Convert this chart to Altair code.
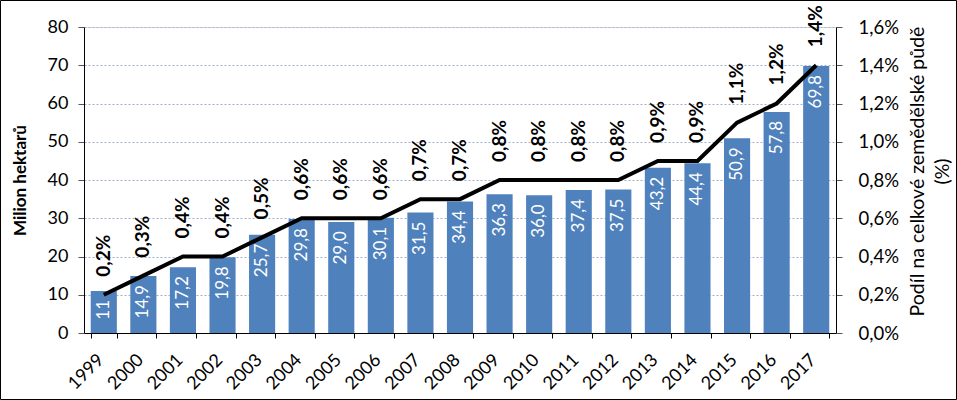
import altair as alt
import pandas as pd

years = [str(y) for y in range(1999, 2018)]
area = [11.0, 14.9, 17.2, 19.8, 25.7, 29.8, 29.0, 30.1, 31.5, 34.4,
        36.3, 36.0, 37.4, 37.5, 43.2, 44.4, 50.9, 57.8, 69.8]
area_labels = ["11", "14,9", "17,2", "19,8", "25,7", "29,8", "29,0", "30,1", "31,5", "34,4",
               "36,3", "36,0", "37,4", "37,5", "43,2", "44,4", "50,9", "57,8", "69,8"]
share = [0.2, 0.3, 0.4, 0.4, 0.5, 0.6, 0.6, 0.6, 0.7, 0.7,
         0.8, 0.8, 0.8, 0.8, 0.9, 0.9, 1.1, 1.2, 1.4]
share_labels = ["0,2%", "0,3%", "0,4%", "0,4%", "0,5%", "0,6%", "0,6%", "0,6%", "0,7%", "0,7%",
                "0,8%", "0,8%", "0,8%", "0,8%", "0,9%", "0,9%", "1,1%", "1,2%", "1,4%"]
left_ticks = [0, 10, 20, 30, 40, 50, 60, 70, 80]
right_ticks = [0.0, 0.2, 0.4, 0.6, 0.8, 1.0, 1.2, 1.4, 1.6]

df = pd.DataFrame({"year": years, "area": area, "area_label": area_labels,
                   "share": share, "share_label": share_labels})

W, H = 752, 306
FONT = "Lato"

x_enc = alt.X(
    "year:N", sort=years,
    scale=alt.Scale(paddingInner=0.34, paddingOuter=0.17),
    axis=alt.Axis(title=None, labelAngle=-45, labelFontSize=18, labelFont=FONT,
                  labelColor="black", labelAlign="right", labelBaseline="middle",
                  labelOffset=-3, labelPadding=19,
                  tickBand="extent", tickSize=5, tickColor="black",
                  domainColor="black", labelOverlap=False),
)

y_left = alt.Y(
    "area:Q",
    scale=alt.Scale(domain=[0, 80], nice=False),
    axis=alt.Axis(values=left_ticks, labelOverlap=False, title="Milion hektarů", titleFont=FONT,
                  titleFontSize=17, titleFontWeight="bold", titleColor="black",
                  titleAngle=270, titleX=-64, titleY=H / 2, titleBaseline="middle",
                  titleAlign="center",
                  labelFont=FONT, labelFontSize=18, labelColor="black", labelPadding=10,
                  tickSize=6, tickColor="#555555", domainColor="black",
                  grid=True, gridDash=[2, 2], gridColor="#9fb0cf", gridWidth=1),
)

y_right = alt.Y(
    "share:Q",
    scale=alt.Scale(domain=[0, 1.6], nice=False),
    axis=alt.Axis(orient="right", values=right_ticks, labelOverlap=False,
                  labelExpr="replace(format(datum.value, '.1f'), '.', ',') + '%'",
                  title=["Podíl na celkové zemědělské půdě", "(%)"], titleFont=FONT,
                  titleFontSize=19.5, titleFontWeight="normal", titleColor="black",
                  titleAngle=270, titleX=81, titleY=H / 2 - 9, titleBaseline="middle",
                  titleAlign="center", titleLineHeight=25,
                  labelFont=FONT, labelFontSize=18.5, labelColor="black", labelPadding=16,
                  tickSize=6, tickColor="#555555", domainColor="black", grid=False),
)

base = alt.Chart(df)

bars = base.mark_bar(color="#4F81BD").encode(x=x_enc, y=y_left)
bar_text = base.mark_text(angle=270, align="right", baseline="middle", dx=-9,
                          color="white", font=FONT, fontSize=17).encode(
    x=x_enc, y=y_left, text="area_label:N")

line = base.mark_line(color="black", strokeWidth=4).encode(x=x_enc, y=y_right)
line_text = base.mark_text(angle=270, align="left", baseline="middle", dx=18,
                           color="black", font=FONT, fontSize=19, fontWeight="bold").encode(
    x=x_enc, y=y_right, text="share_label:N")

left_layer = alt.layer(bars, bar_text)
right_layer = alt.layer(line, line_text)

border = alt.Chart(alt.Data(values=[{"a": 1}])).mark_rect(
    fill=None, stroke="black", strokeWidth=1, clip=False).encode(
    x=alt.value(-83.5), x2=alt.value(W + 120.5),
    y=alt.value(-26.5), y2=alt.value(H + 66.5))

chart = alt.layer(left_layer, right_layer, border).resolve_scale(y="independent").properties(
    width=W, height=H,
    autosize=alt.AutoSizeParams(type="none"),
    padding={"left": 84, "top": 27, "right": 121, "bottom": 67},
).configure_view(stroke=None).configure(background="white")

chart.save("out.html", embed_options={"renderer": "svg", "actions": False})
